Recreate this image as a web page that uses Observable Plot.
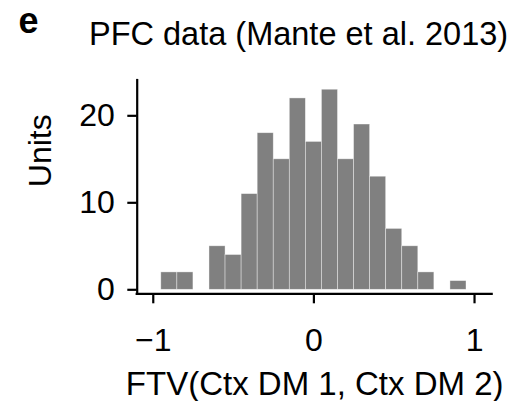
<!DOCTYPE html>
<html>
<head>
<meta charset="utf-8">
<script src="https://cdn.jsdelivr.net/npm/d3@7"></script>
<script src="https://cdn.jsdelivr.net/npm/@observablehq/plot@0.6"></script>
<style>
  body { margin: 0; background: #fff; }
  #fig { position: relative; width: 523px; height: 401px; font-family: "Liberation Sans", Arial, Helvetica, sans-serif; color: #000; }
  #fig svg { position: absolute; left: 0; top: 0; }
  .panel { position: absolute; left: 18.5px; top: 2.5px; font-size: 36px; font-weight: bold; line-height: 1; }
  .title { position: absolute; left: 89px; top: 18.2px; font-size: 32.5px; line-height: 1; white-space: nowrap; }
</style>
</head>
<body>
<div id="fig">
  <div class="panel">e</div>
  <div class="title">PFC data (Mante et al. 2013)</div>
</div>
<script>
// Histogram bins (left edges, width 0.1) and unit counts per bin
const binLefts = [-0.95, -0.85, -0.75, -0.65, -0.55, -0.45, -0.35, -0.25, -0.15, -0.05,
                  0.05, 0.15, 0.25, 0.35, 0.45, 0.55, 0.65, 0.75, 0.85];
const counts   = [2, 2, 0, 5, 4, 11, 18, 15, 22, 17,
                  23, 15, 19, 13, 7, 5, 2, 0, 1];
const binWidth = 0.1;

// Axis ticks and labels
const xTicks = [-1, 0, 1];
const yTicks = [0, 10, 20];
const xLabel = "FTV(Ctx DM 1, Ctx DM 2)";
const yLabel = "Units";

// Scale extents (the axis spines sit at the domain minimum)
const xDomain = [-1.1, 1.11];
const yDomain = [-0.46, 24.06];

const bins = binLefts.map((x, i) => ({x1: x, x2: x + binWidth, count: counts[i]}))
  .filter(d => d.count > 0);

const intFormat = d3.format("d");

const chart = Plot.plot({
  width: 523,
  height: 401,
  marginLeft: 136.7,
  marginRight: 31.3,
  marginTop: 80,
  marginBottom: 107.7,
  style: {fontFamily: "'Liberation Sans', Arial, Helvetica, sans-serif", color: "#000", background: "transparent"},
  x: {domain: xDomain},
  y: {domain: yDomain},
  marks: [
    Plot.rectY(bins, {x1: "x1", x2: "x2", y1: 0, y2: "count", fill: "#808080", stroke: "#ffffff", strokeOpacity: 0.55, strokeWidth: 0.7}),
    Plot.ruleY([yDomain[0]], {stroke: "#000", strokeWidth: 2.2, strokeLinecap: "square"}),
    Plot.ruleX([xDomain[0]], {stroke: "#000", strokeWidth: 2.2, strokeLinecap: "square"}),
    Plot.axisX({ticks: xTicks, tickFormat: intFormat, tickSize: 10, tickPadding: 24, fontSize: 32, strokeWidth: 2.2, label: null}),
    Plot.axisY({ticks: yTicks, tickFormat: intFormat, tickSize: 9.4, tickPadding: 13, fontSize: 32, strokeWidth: 2.2, label: null}),
    Plot.text([xLabel], {text: d => d, frameAnchor: "bottom", lineAnchor: "bottom", dy: 100.7, fontSize: 33}),
    Plot.text([yLabel], {text: d => d, frameAnchor: "left", rotate: -90, lineAnchor: "bottom", dx: -86.7, fontSize: 32})
  ]
});
document.getElementById("fig").prepend(chart);
</script>
</body>
</html>
